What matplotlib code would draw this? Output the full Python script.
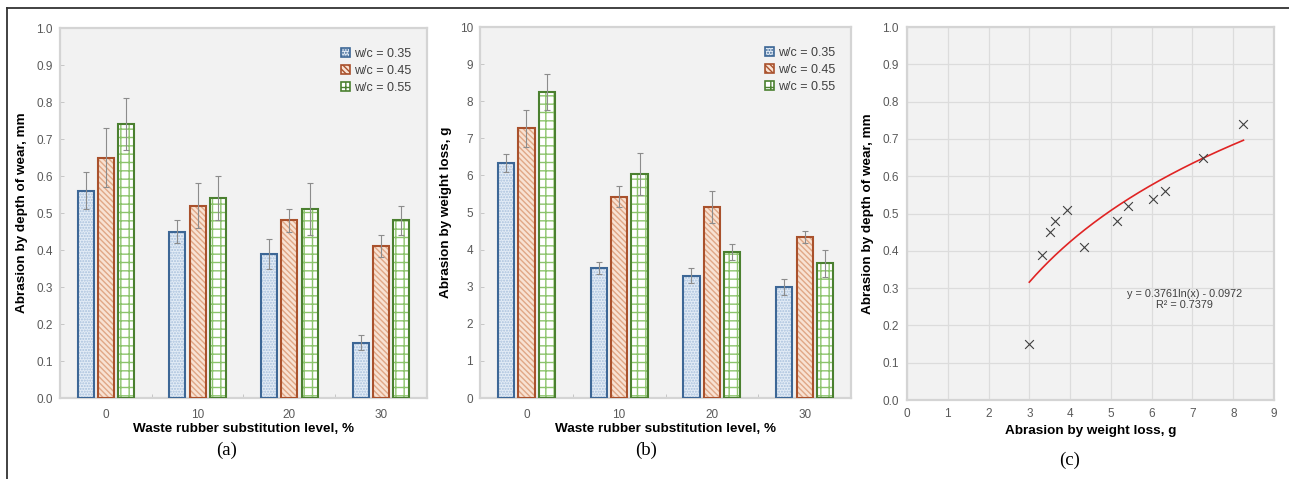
import numpy as np
import matplotlib.pyplot as plt
from matplotlib.patches import Patch
from matplotlib.lines import Line2D

plt.rcParams['font.family'] = ['Liberation Sans', 'DejaVu Sans']

## data
levels = ["0", "10", "20", "30"]
series = ["w/c = 0.35", "w/c = 0.45", "w/c = 0.55"]

depth_035 = [0.56, 0.45, 0.39, 0.15]
depth_045 = [0.65, 0.52, 0.48, 0.41]
depth_055 = [0.74, 0.54, 0.51, 0.48]
depth_err_035 = [0.05, 0.03, 0.04, 0.02]
depth_err_045 = [0.08, 0.06, 0.03, 0.03]
depth_err_055 = [0.07, 0.06, 0.07, 0.04]

weight_035 = [6.33, 3.50, 3.30, 3.00]
weight_045 = [7.27, 5.43, 5.15, 4.33]
weight_055 = [8.25, 6.03, 3.93, 3.63]
weight_err_035 = [0.25, 0.17, 0.20, 0.22]
weight_err_045 = [0.50, 0.29, 0.43, 0.16]
weight_err_055 = [0.48, 0.57, 0.21, 0.36]

# trendline as printed on panel (c)
fit_a = 0.3761
fit_b = -0.0972
fit_r2 = 0.7379

## styles: (edge colour, fill colour, hatch colour, hatch)
styles = [
    ("#3d6796", "#e3ecf6", "#a8c0dc", "......"),
    ("#a9512c", "#f8e2d3", "#e0a786", "\\\\\\\\\\\\"),
    ("#4b8030", "#ffffff", "#8cc46c", "++"),
]

bg = "#f2f2f2"
frame_c = "#d4d4d4"
tick_c = "#595959"


def style_axes(ax):
    ax.set_facecolor(bg)
    for s in ax.spines.values():
        s.set_color(frame_c)
        s.set_linewidth(1.6)
    ax.tick_params(colors=tick_c, labelsize=8.5, length=3, width=0.6, direction="in")
    for lab in ax.get_xticklabels() + ax.get_yticklabels():
        lab.set_color(tick_c)


def bar_panel(ax, values, errors, ylim, yticks, yfmt, ylabel, ylab_x):
    x = np.arange(len(levels))
    width = 0.175
    step = 0.22
    handles = []
    for i, (vals, errs) in enumerate(zip(values, errors)):
        edge, fill, hcol, hatch = styles[i]
        pos = x + (i - 1) * step
        # fill + hatch pass, then outline pass on top
        ax.bar(pos, vals, width, color=fill, edgecolor=hcol, hatch=hatch, linewidth=0, zorder=2)
        ax.bar(pos, vals, width, fill=False, edgecolor=edge, linewidth=1.5, zorder=3)
        ax.errorbar(pos, vals, yerr=errs, fmt="none", ecolor="#8c8c8c", elinewidth=0.8,
                    capsize=2, capthick=0.8, zorder=4)
        handles.append(Patch(facecolor=fill, edgecolor=edge, hatch=hatch, linewidth=1.2, label=series[i]))
    ax.set_xlim(-0.5, 3.5)
    ax.set_ylim(*ylim)
    ax.set_yticks(yticks)
    ax.set_yticklabels([yfmt.format(t) for t in yticks])
    ax.set_xticks(x)
    ax.set_xticklabels(levels)
    ax.set_xticks([0.5, 1.5, 2.5], minor=True)
    style_axes(ax)
    ax.tick_params(axis="x", which="major", length=0, pad=8)
    ax.tick_params(axis="x", which="minor", length=3, color="#bfbfbf", direction="in")
    ax.tick_params(axis="y", color="#bfbfbf", pad=5)
    ax.set_xlabel("Waste rubber substitution level, %", fontsize=9.7, fontweight="bold", labelpad=1)
    ax.set_ylabel(ylabel, fontsize=9.7, fontweight="bold")
    ax.yaxis.set_label_coords(ylab_x, 0.5)
    leg = ax.legend(handles=handles, loc="upper right", frameon=False, fontsize=9,
                    handlelength=0.7, handleheight=0.7, handletextpad=0.3, labelspacing=0.4,
                    bbox_to_anchor=(0.97, 0.96), borderaxespad=0)
    for t in leg.get_texts():
        t.set_color("#404040")


fig = plt.figure(figsize=(12.89, 4.79), dpi=100)

ax_a = fig.add_axes([0.0465, 0.1691, 0.2848, 0.7724])
ax_b = fig.add_axes([0.3724, 0.1691, 0.2878, 0.7745])
ax_c = fig.add_axes([0.7036, 0.1649, 0.2848, 0.7787])

bar_panel(ax_a, [depth_035, depth_045, depth_055],
          [depth_err_035, depth_err_045, depth_err_055],
          (0, 1.0), np.round(np.arange(0, 1.01, 0.1), 1), "{:.1f}",
          "Abrasion by depth of wear, mm", -0.087)
bar_panel(ax_b, [weight_035, weight_045, weight_055],
          [weight_err_035, weight_err_045, weight_err_055],
          (0, 10), np.arange(0, 11, 1), "{:d}",
          "Abrasion by weight loss, g", -0.075)

## panel (c): depth vs weight scatter with log trendline
wx = np.concatenate([weight_035, weight_045, weight_055])
dy = np.concatenate([depth_035, depth_045, depth_055])
ax_c.grid(True, color="#dcdcdc", linewidth=0.9, zorder=0)
ax_c.set_axisbelow(True)
ax_c.scatter(wx, dy, marker="x", s=40, color="#404040", linewidths=0.8, zorder=3)
xx = np.linspace(wx.min(), wx.max(), 200)
ax_c.plot(xx, fit_a * np.log(xx) + fit_b, color="#e02424", linewidth=1.2, zorder=2)
ax_c.set_xlim(0, 9)
ax_c.set_ylim(0, 1.0)
ax_c.set_xticks(np.arange(0, 10, 1))
ax_c.set_yticks(np.round(np.arange(0, 1.01, 0.1), 1))
ax_c.set_yticklabels(["{:.1f}".format(t) for t in np.arange(0, 1.01, 0.1)])
style_axes(ax_c)
ax_c.tick_params(length=0, pad=6)
ax_c.set_xlabel("Abrasion by weight loss, g", fontsize=9.7, fontweight="bold", labelpad=3)
ax_c.set_ylabel("Abrasion by depth of wear, mm", fontsize=9.7, fontweight="bold")
ax_c.yaxis.set_label_coords(-0.09, 0.5)
ax_c.text(6.8, 0.27, "y = {:.4f}ln(x) - {:.4f}\nR² = {:.4f}".format(fit_a, abs(fit_b), fit_r2),
          ha="center", va="center", fontsize=7.8, color="#404040", linespacing=1.05)

## sub-figure letters
for xpos, ypos, lab in [(0.176, 0.06, "(a)"), (0.501, 0.06, "(b)"), (0.830, 0.038, "(c)")]:
    fig.text(xpos, ypos, lab, ha="center", va="center", fontsize=13.5,
             family=["Liberation Serif", "DejaVu Serif"])

## outer frame lines (left and top)
fig.add_artist(Line2D([0.0054, 0.0054], [0.0, 0.983], color="#333333", linewidth=1.3))
fig.add_artist(Line2D([0.0054, 1.0], [0.983, 0.983], color="#333333", linewidth=1.3))

fig.savefig("out.png", dpi=100)
